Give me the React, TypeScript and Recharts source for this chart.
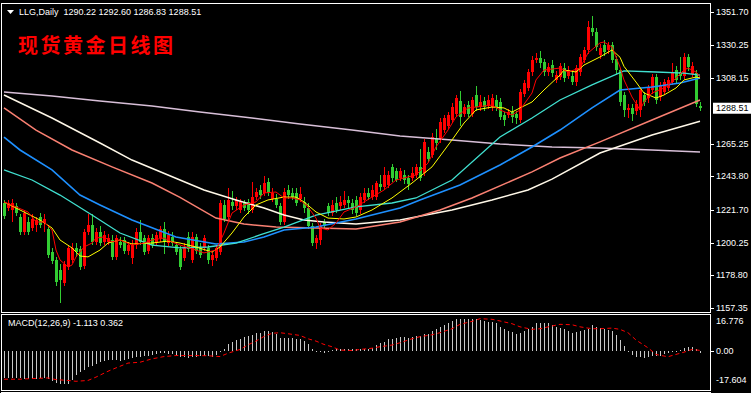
import React from 'react';
import { ComposedChart, Bar, Line, XAxis, YAxis } from 'recharts';

const titleText = 'LLG,Daily  1290.22 1292.60 1286.83 1288.51';
const chartTitle = '现货黄金日线图';
const macdLabel = 'MACD(12,26,9) -1.113 0.362';
const lastPrice = 1288.51;
const priceTicks = [1157.35, 1178.8, 1200.25, 1221.7, 1243.8, 1265.25, 1288.51, 1308.15, 1330.25, 1351.7];
const macdTicks = [16.776, 0, -17.604];

const opens = [
  1226, 1223, 1222, 1224, 1217, 1207, 1214, 1210, 1212, 1217, 1213, 1209, 1194, 1189, 1182, 1174, 1184, 1189, 1197, 1196,
  1185, 1207, 1212, 1201, 1207, 1201, 1201, 1202, 1191, 1201, 1202, 1195, 1190, 1199, 1207, 1203, 1195, 1203, 1200, 1203,
  1209, 1200, 1204, 1199, 1196, 1190, 1204, 1189, 1204, 1197, 1197, 1197, 1189, 1190, 1194, 1225, 1217, 1227, 1224, 1222,
  1226, 1227, 1222, 1230, 1235, 1233, 1240, 1229, 1229, 1224, 1214, 1235, 1233, 1233, 1229, 1227, 1223, 1211, 1200, 1202,
  1214, 1224, 1220, 1226, 1224, 1225, 1228, 1226, 1228, 1222, 1228, 1233, 1230, 1230, 1239, 1237, 1238, 1250, 1247, 1243,
  1245, 1243, 1243, 1245, 1250, 1246, 1260, 1258, 1269, 1268, 1274, 1277, 1281, 1285, 1293, 1285, 1290.5, 1285, 1297, 1289,
  1293, 1290, 1289, 1294, 1292.5, 1284, 1284, 1286, 1285, 1281, 1298, 1302, 1312, 1320, 1321.5, 1319, 1312.3, 1316.9, 1307, 1309,
  1315, 1310, 1310, 1306, 1312, 1320, 1326.8, 1341, 1338.6, 1323.5, 1330, 1326.8, 1330, 1321, 1313.6, 1297, 1287.4, 1288.7, 1287, 1287.4,
  1297, 1295, 1300.5, 1309, 1296, 1299, 1302, 1306, 1313.6, 1312, 1310, 1322, 1311, 1311.5, 1290.22,
];
const highs = [
  1228, 1228, 1229, 1226, 1219, 1222, 1217, 1219, 1217, 1220, 1219, 1212, 1197, 1191, 1186, 1188, 1199, 1200, 1200, 1198,
  1209, 1219, 1219, 1210, 1211, 1208, 1206, 1205, 1205, 1204, 1204, 1201, 1202, 1210, 1215, 1205, 1205, 1206, 1207, 1211,
  1214, 1208, 1207, 1201, 1198, 1200, 1207, 1207, 1206, 1200, 1205, 1199, 1194, 1199, 1228, 1228, 1236, 1234, 1230, 1229,
  1228, 1229, 1240, 1236, 1238, 1244, 1243, 1236, 1232, 1226, 1236, 1238, 1236, 1236, 1237, 1230, 1226, 1213, 1205, 1213,
  1216, 1226, 1228, 1230, 1231, 1234, 1231, 1229, 1231, 1233, 1236, 1236, 1238, 1241, 1245, 1250, 1247, 1252, 1249, 1249,
  1248, 1245, 1250, 1252, 1262, 1268, 1263, 1272, 1275, 1282, 1284, 1286, 1292, 1297, 1300, 1291, 1293, 1296, 1303, 1297,
  1296, 1297, 1298, 1297, 1295, 1286, 1288, 1290, 1287, 1301, 1307, 1314, 1323, 1325, 1326, 1321, 1318, 1320, 1313, 1318,
  1318, 1316, 1313, 1317, 1324, 1329, 1346, 1349, 1341, 1331, 1333, 1332, 1332, 1323, 1315, 1299, 1291, 1291, 1294, 1302,
  1299, 1304, 1311, 1311, 1306, 1308, 1309, 1318, 1316, 1322, 1325, 1324, 1319, 1313.5, 1292.6,
];
const lows = [
  1216, 1221, 1214, 1218, 1205, 1205, 1205, 1208, 1207, 1210, 1207, 1190, 1186, 1172, 1160.5, 1172, 1182, 1187, 1191, 1182,
  1183, 1205, 1199, 1199, 1198, 1199, 1199, 1189, 1189, 1197, 1193, 1192, 1186, 1196, 1199, 1192, 1193, 1197, 1198, 1201,
  1193, 1198, 1198, 1192, 1182, 1188, 1194, 1187, 1193, 1190, 1195, 1186, 1185, 1188, 1192, 1214, 1215, 1222, 1222, 1220,
  1221, 1219, 1220, 1228, 1229, 1231, 1231, 1227, 1223, 1212, 1212, 1229, 1228, 1224, 1227, 1220, 1209, 1198, 1196, 1199,
  1209, 1218, 1218, 1220, 1222, 1223, 1223, 1219, 1218, 1219, 1226, 1228, 1228, 1228, 1234, 1235, 1236, 1240, 1240, 1241,
  1239, 1235, 1241, 1243, 1241, 1244, 1253, 1256, 1261, 1266, 1272, 1275, 1279, 1283, 1277, 1283, 1283, 1283, 1287, 1287,
  1287, 1288, 1287, 1287, 1281, 1277, 1282, 1279, 1278, 1279, 1296, 1300, 1310, 1318, 1315, 1310, 1310, 1309, 1305, 1307,
  1306, 1308, 1304, 1303, 1310, 1318, 1324, 1336, 1326, 1321, 1323, 1324, 1318, 1311, 1290, 1283, 1282, 1280, 1284, 1283,
  1290, 1292, 1298, 1291, 1293, 1297, 1300, 1304, 1305, 1307, 1308, 1313, 1309, 1289, 1286.83,
];
const closes = [
  1218, 1226, 1226, 1220, 1207, 1220, 1207, 1216, 1215, 1212, 1216, 1192, 1188, 1174.5, 1176, 1186, 1197, 1197, 1194, 1184,
  1207, 1212, 1201, 1207.5, 1200, 1205, 1203.5, 1191, 1203, 1199, 1195, 1199, 1199, 1207, 1201, 1194, 1203, 1199, 1205, 1209,
  1201, 1205, 1200, 1194, 1184, 1197, 1196, 1204, 1195, 1192, 1203, 1189, 1192, 1197, 1226, 1216, 1228, 1224, 1228, 1227,
  1223, 1222, 1230, 1233.5, 1231.5, 1239.5, 1233, 1233, 1225, 1214, 1233.5, 1231.5, 1230, 1226, 1232, 1223, 1211, 1200, 1203, 1211,
  1211, 1220, 1225, 1222, 1227, 1228, 1226, 1222, 1220, 1230, 1233, 1230, 1234.8, 1239.4, 1236.5, 1245, 1245, 1243, 1241.5, 1247,
  1241.5, 1239, 1246, 1250, 1243, 1266.3, 1255, 1269.6, 1266, 1279.5, 1282, 1284, 1289, 1295, 1283, 1289, 1285, 1294, 1289, 1292.5,
  1289, 1294, 1295, 1289, 1283, 1281, 1286, 1283, 1282, 1299, 1305, 1312, 1320, 1321.5, 1318, 1312, 1315.6, 1311.6, 1310.3, 1316,
  1308.4, 1313.6, 1306, 1315, 1322, 1326.8, 1342, 1338.6, 1328.7, 1328, 1325.4, 1330, 1320, 1313.6, 1292.6, 1287.4, 1288.7, 1285, 1291.5, 1300.5,
  1292.6, 1302, 1309, 1294, 1304, 1306, 1307, 1312, 1307, 1310, 1322, 1315.6, 1316.5, 1291, 1288.51,
];

// moving averages: [bar index, value]
const maRed: [number, number][] = [
  [0, 1227.0], [6, 1220.4], [8, 1213.8], [10, 1213.8], [12, 1208.6], [13, 1195.4], [14, 1188.9], [16, 1184.3], [17, 1185.6],
  [18, 1190.9], [20, 1197.4], [22, 1200.0], [23, 1203.3], [25, 1204.0], [27, 1200.7], [29, 1202.0], [32, 1198.7], [35, 1200.0],
  [37, 1202.0], [40, 1203.3], [42, 1200.7], [44, 1198.7], [48, 1195.4], [50, 1193.5], [53, 1195.4], [55, 1206.6], [57, 1219.7],
  [60, 1225.0], [63, 1227.0], [65, 1232.9], [68, 1233.5], [70, 1229.6], [72, 1229.6], [74, 1228.3], [76, 1223.7], [78, 1216.4],
  [79, 1209.9], [81, 1208.6], [83, 1213.1], [85, 1220.4], [88, 1223.7], [92, 1230.2], [95, 1234.8], [98, 1241.4], [101, 1243.4],
  [103, 1244.7], [106, 1252.5], [108, 1263.1], [111, 1274.2], [113, 1282.8], [116, 1288.7], [118, 1289.3], [122, 1290.6],
  [124, 1287.4], [127, 1284.1], [129, 1287.4], [132, 1298.5], [133, 1307.1], [135, 1313.6], [139, 1314.9], [141, 1312.3],
  [144, 1314.9], [146, 1324.8], [149, 1331.4], [150, 1332.0], [152, 1328.7], [154, 1315.6], [155, 1307.1], [157, 1295.9],
  [159, 1287.4], [160, 1292.6], [162, 1298.5], [165, 1301.8], [167, 1305.7], [170, 1313.6], [171, 1314.9], [173, 1312.3], [174, 1309.0],
];
const maYellow: [number, number][] = [
  [0, 1227.0], [4, 1221.7], [9, 1215.1], [12, 1209.9], [14, 1202.0], [17, 1196.8], [19, 1191.5], [21, 1190.9], [24, 1195.4],
  [26, 1200.0], [29, 1202.0], [32, 1199.4], [37, 1200.0], [41, 1201.3], [44, 1200.0], [48, 1197.4], [52, 1194.1], [54, 1197.4],
  [57, 1206.6], [60, 1217.1], [63, 1225.0], [66, 1228.3], [70, 1230.2], [73, 1230.2], [75, 1227.0], [78, 1220.4], [81, 1216.4],
  [85, 1215.8], [88, 1217.1], [92, 1221.7], [97, 1229.6], [102, 1239.4], [107, 1250.0], [112, 1267.7], [115, 1278.8],
  [118, 1287.4], [122, 1289.3], [125, 1288.7], [127, 1286.0], [129, 1288.7], [132, 1292.6], [135, 1300.5], [139, 1310.3],
  [140, 1313.6], [143, 1312.3], [145, 1316.9], [149, 1322.2], [152, 1326.8], [154, 1322.0], [155, 1316.0], [158, 1305.7],
  [160, 1298.5], [163, 1295.2], [165, 1297.2], [168, 1301.8], [170, 1307.1], [173, 1309.0], [174, 1308.4],
];
const maCyan: [number, number][] = [
  [0, 1248.0], [7, 1241.4], [14, 1231.5], [22, 1218.4], [29, 1206.6], [37, 1198.7], [44, 1196.8], [51, 1197.4], [58, 1200.0],
  [64, 1205.3], [70, 1210.5], [78, 1218.4], [88, 1223.7], [97, 1226.3], [103, 1229.6], [112, 1241.4], [124, 1269.6],
  [132, 1282.1], [139, 1293.9], [147, 1303.8], [155, 1313.0], [163, 1312.3], [170, 1311.6], [174, 1310.3],
];
const maBlue: [number, number][] = [
  [0, 1269.6], [4, 1261.1], [12, 1248.0], [19, 1231.5], [24, 1225.0], [32, 1215.1], [43, 1204.0], [53, 1199.4], [60, 1200.7],
  [65, 1204.0], [70, 1208.6], [78, 1210.5], [88, 1215.8], [99, 1223.0], [104, 1228.3], [114, 1238.1], [124, 1251.2],
  [132, 1263.1], [139, 1274.2], [147, 1288.7], [154, 1300.5], [162, 1302.5], [169, 1305.1], [174, 1308.4],
];
const maSalmon: [number, number][] = [
  [0, 1288.7], [8, 1274.2], [17, 1261.1], [27, 1250.0], [37, 1239.4], [44, 1230.0], [53, 1216.4], [60, 1212.5], [68, 1210.5],
  [78, 1209.9], [88, 1209.2], [99, 1213.8], [109, 1221.7], [117, 1229.6], [132, 1246.7], [139, 1255.8], [149, 1266.4],
  [162, 1280.8], [174, 1293.9],
];
const maWhite: [number, number][] = [
  [0, 1297.2], [12, 1282.1], [24, 1265.7], [32, 1254.5], [44, 1241.4], [50, 1234.8], [58, 1228.3], [65, 1223.0], [70, 1218.4],
  [75, 1215.1], [80, 1213.8], [88, 1212.5], [99, 1215.1], [112, 1221.7], [122, 1228.3], [131, 1234.8], [137, 1242.0],
  [149, 1259.1], [162, 1270.9], [174, 1280.0],
];
const maLavender: [number, number][] = [
  [0, 1299.2], [12, 1296.5], [24, 1293.3], [37, 1290.0], [49, 1286.0], [62, 1282.1], [74, 1278.2], [87, 1274.2], [99, 1270.3],
  [112, 1267.7], [124, 1265.0], [137, 1263.1], [149, 1262.4], [162, 1261.1], [174, 1259.8],
];

const macdHist = [
  -12.8, -12.8, -12.8, -12.9, -13.0, -13.2, -13.3, -13.2, -13.2, -13.0, -12.9, -13.5,
  -14.2, -15.0, -15.6, -15.9, -15.6, -14.0, -11.6, -10.0, -9.2, -7.7, -6.9, -6.1,
  -5.3, -4.8, -4.1, -4.1, -4.1, -4.5, -4.1, -3.8, -3.2, -2.9, -2.6, -2.2,
  -2.1, -1.9, -1.3, -1.0, -1.0, -1.3, -1.6, -2.1, -2.6, -2.9, -3.2, -2.9,
  -2.6, -2.2, -2.2, -2.2, -2.6, -1.8, -0.5, 1.1, 3.5, 4.3, 5.1, 5.9,
  6.7, 7.2,
  7.5, 8.5, 8.5, 9.4, 9.4, 9.1, 8.1, 6.5, 6.5, 6.5, 6.5, 5.9,
  5.6, 4.6, 3.2, 0.8, 0.3, -0.5, -0.8, 0.3, 0.5, 0.8, 0.8, 1.1,
  1.1, 1.1, 0.8, 0.8, 0.8, 0.8, 1.6, 2.7, 3.7, 4.3, 5.6, 5.9,
  6.4, 6.9, 6.9, 6.5, 6.7, 7.2, 7.2, 8.1, 8.1, 9.4, 10.4, 11.3,
  12.3, 13.2, 14.2, 15.5, 15.5, 15.5, 15.2, 15.5, 15.5, 14.8, 14.2, 13.9,
  13.9, 13.2, 11.6, 10.4, 9.4, 9.1, 8.0, 8.8, 9.4, 10.4, 11.6, 13.2,
  13.2, 13.2, 13.2, 12.3, 11.3, 11.0, 10.7, 9.7, 8.8, 9.1, 9.4, 10.0,
  10.4, 12.3, 11.3, 11.0, 10.7, 10.0, 9.4, 7.8, 5.3, 2.4, -0.2, -1.8,
  -2.7, -2.7, -3.3, -2.7, -2.1, -2.4, -2.1, -1.6, -1.1, -0.2, -0.1, 0.5,
  1.4, 2.1, 2.1, 0.8, -1.113,
];
const macdSignal: [number, number][] = [
  [0, -13.4], [4, -13.4], [7, -13.1], [11, -12.8], [13, -13.6], [16, -14.0], [18, -14.4], [21, -14.0], [23, -12.4], [26, -9.6],
  [28, -8.0], [31, -5.7], [34, -5.3], [37, -3.7], [40, -2.6], [43, -2.1], [47, -2.1], [51, -2.2], [54, -2.6], [56, -1.0],
  [59, 0.8], [61, 3.0], [63, 4.8], [65, 7.0], [67, 8.5], [69, 8.8], [71, 8.3], [74, 7.5], [76, 5.9], [78, 4.8], [80, 3.2],
  [82, 2.1], [84, 0.5], [87, 0.3], [89, 0.8], [92, 1.4], [94, 2.1], [97, 2.9], [99, 4.0], [102, 5.9], [104, 6.9], [107, 7.8],
  [109, 8.8], [112, 10.7], [114, 12.8], [117, 14.2], [119, 15.5], [122, 15.2], [124, 14.4], [127, 13.1], [129, 11.6],
  [132, 10.4], [134, 10.7], [137, 12.0], [139, 12.8], [142, 12.6], [144, 11.6], [147, 10.7], [149, 10.7], [152, 11.0],
  [154, 10.4], [156, 8.8], [158, 5.3], [161, 1.6], [163, -1.6], [166, -2.7], [167, -2.1], [170, -0.5], [172, 0.8], [174, 0.362],
];

const lookup = (pts: [number, number][]) => {
  const m = new Map<number, number>(pts);
  return (i: number) => (m.has(i) ? (m.get(i) as number) : null);
};
const fRed = lookup(maRed), fYel = lookup(maYellow), fCy = lookup(maCyan), fBl = lookup(maBlue);
const fSal = lookup(maSalmon), fWh = lookup(maWhite), fLav = lookup(maLavender), fSig = lookup(macdSignal);

const rows = opens.map((o, i) => ({
  i, o, h: highs[i], l: lows[i], c: closes[i],
  red: fRed(i), yel: fYel(i), cy: fCy(i), bl: fBl(i), sal: fSal(i), wh: fWh(i), lav: fLav(i),
  hist: macdHist[i], sig: fSig(i),
}));

const UP = '#ff0000';
const DOWN = '#32cd32';

const Candle = (props: any) => {
  const { x, y, width, height, index } = props;
  const d = rows[index];
  if (!d || y == null || isNaN(y)) return null;
  const top = Math.min(y, y + height);
  const bot = Math.max(y, y + height);
  const range = d.h - d.l;
  const ppu = range > 0 ? (bot - top) / range : 0;
  const yOf = (p: number) => top + (d.h - p) * ppu;
  const cx = Math.round(x + width / 2);
  const color = d.c >= d.o ? UP : DOWN;
  const bt = Math.round(yOf(Math.max(d.o, d.c)));
  const bb = Math.round(yOf(Math.min(d.o, d.c)));
  return (
    <g>
      <rect x={cx} y={Math.round(top)} width={1} height={Math.max(1, Math.round(bot) - Math.round(top))} fill={color} />
      <rect x={cx - 1} y={bt} width={3} height={Math.max(1, bb - bt)} fill={color} />
    </g>
  );
};

const HistBar = (props: any) => {
  const { x, y, width, height } = props;
  if (y == null || isNaN(y)) return null;
  const top = Math.min(y, y + height);
  const bot = Math.max(y, y + height);
  const cx = Math.round(x + width / 2);
  return <rect x={cx} y={Math.round(top)} width={1} height={Math.max(1, Math.round(bot) - Math.round(top))} fill="#c8c8c8" />;
};

const PriceTick = (props: any) => {
  const { y, payload } = props;
  const v = payload.value as number;
  if (Math.abs(v - lastPrice) < 1e-6) {
    return (
      <g>
        <rect x={713} y={y - 5.5} width={38} height={11} fill="#ffffff" />
        <text x={716} y={y} dy="0.35em" fill="#000000" fontSize={9} fontFamily="Liberation Sans, Arial, sans-serif">{v.toFixed(2)}</text>
      </g>
    );
  }
  return (
    <g>
      <line x1={710} x2={714} y1={Math.round(y) + 0.5} y2={Math.round(y) + 0.5} stroke="#ffffff" />
      <text x={716} y={y} dy="0.35em" fill="#ffffff" fontSize={9} fontFamily="Liberation Sans, Arial, sans-serif">{v.toFixed(2)}</text>
    </g>
  );
};

const MacdTick = (props: any) => {
  const { y, payload } = props;
  const v = payload.value as number;
  const label = v === 0 ? '0.00' : v.toFixed(3);
  const shift = v > 0 ? 5 : v < 0 ? -8 : 0;
  return (
    <g>
      {v === 0 && <line x1={710} x2={714} y1={Math.round(y) + 0.5} y2={Math.round(y) + 0.5} stroke="#ffffff" />}
      <text x={716} y={y + shift} dy="0.35em" fill="#ffffff" fontSize={9} fontFamily="Liberation Sans, Arial, sans-serif">{label}</text>
    </g>
  );
};

const lineProps = { dot: false, activeDot: false, connectNulls: true, isAnimationActive: false, type: 'linear' as const };

export default function App() {
  return (
    <div style={{ position: 'absolute', left: 0, top: 0, width: 751, height: 393, background: '#000', overflow: 'hidden', fontFamily: 'Liberation Sans, Arial, sans-serif' }}>
      <div style={{ position: 'absolute', left: 0, top: 0 }}>
        <ComposedChart width={751} height={313} data={rows} margin={{ top: 12, right: 0, bottom: 5, left: 2 }}>
          <XAxis dataKey="i" type="category" hide />
          <YAxis
            orientation="right"
            width={49}
            type="number"
            domain={[1157.35, 1351.7]}
            allowDataOverflow
            ticks={priceTicks}
            interval={0}
            axisLine={false}
            tickLine={false}
            tick={(p: any) => <PriceTick {...p} />}
          />
          <Bar dataKey={(d: any) => [d.l, d.h]} shape={(p: any) => <Candle {...p} />} isAnimationActive={false} />
          <Line dataKey="lav" stroke="#d8bfd8" strokeWidth={1.5} {...lineProps} />
          <Line dataKey="wh" stroke="#fff8e8" strokeWidth={1.5} {...lineProps} />
          <Line dataKey="sal" stroke="#fa8072" strokeWidth={1.5} {...lineProps} />
          <Line dataKey="bl" stroke="#1e90ff" strokeWidth={1.6} {...lineProps} />
          <Line dataKey="cy" stroke="#40e0d0" strokeWidth={1.3} {...lineProps} />
          <Line dataKey="yel" stroke="#ffff00" strokeWidth={1} {...lineProps} />
          <Line dataKey="red" stroke="#ff0000" strokeWidth={1} {...lineProps} />
        </ComposedChart>
      </div>
      <div style={{ position: 'absolute', left: 0, top: 313 }}>
        <ComposedChart width={751} height={80} data={rows} margin={{ top: 3, right: 0, bottom: 5, left: 2 }}>
          <XAxis dataKey="i" type="category" hide />
          <YAxis
            orientation="right"
            width={49}
            type="number"
            domain={[-17.604, 16.776]}
            allowDataOverflow
            ticks={macdTicks}
            interval={0}
            axisLine={false}
            tickLine={false}
            tick={(p: any) => <MacdTick {...p} />}
          />
          <Bar dataKey="hist" shape={(p: any) => <HistBar {...p} />} isAnimationActive={false} />
          <Line dataKey="sig" stroke="#ff0000" strokeWidth={1} strokeDasharray="4 3" {...lineProps} />
        </ComposedChart>
      </div>

      {/* panel borders */}
      <div style={{ position: 'absolute', left: 1, top: 3, width: 710, height: 310, border: '1px solid #fff', boxSizing: 'border-box', pointerEvents: 'none' }} />
      <div style={{ position: 'absolute', left: 1, top: 314, width: 710, height: 77, border: '1px solid #fff', boxSizing: 'border-box', pointerEvents: 'none' }} />
      <div style={{ position: 'absolute', left: 1, top: 392, width: 710, height: 1, background: '#fff' }} />

      {/* header texts */}
      <svg style={{ position: 'absolute', left: 0, top: 0 }} width={20} height={20}>
        <polygon points="7,10 14,10 10.5,14" fill="#ffffff" />
      </svg>
      <div style={{ position: 'absolute', left: 19, top: 6, fontSize: 9, lineHeight: '12px', color: '#ffffff', whiteSpace: 'pre' }}>{titleText}</div>
      <div style={{ position: 'absolute', left: 18, top: 34, fontSize: 20, lineHeight: '22px', fontWeight: 700, letterSpacing: '2.5px', color: '#ff0000', fontFamily: '"Noto Sans CJK SC", sans-serif', whiteSpace: 'nowrap' }}>{chartTitle}</div>
      <div style={{ position: 'absolute', left: 8, top: 317, fontSize: 9, lineHeight: '12px', color: '#ffffff', whiteSpace: 'pre' }}>{macdLabel}</div>
    </div>
  );
}
